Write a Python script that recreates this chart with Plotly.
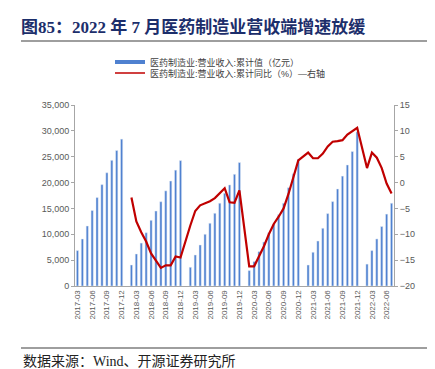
import plotly.graph_objects as go
import pandas as pd

# Categories: monthly 2017-03 .. 2022-07
months = [p.strftime("%Y-%m") for p in pd.period_range("2017-03", "2022-07", freq="M")]

# Cumulative revenue (亿元); January has no data (None)
rev_2017 = [6850, 9090, 11600, 14600, 17100, 19600, 21900, 24300, 26200, 28400]
rev_2018 = [None, 4060, 6190, 8300, 10300, 12700, 14500, 16300, 18400, 20300, 22400, 24250]
rev_2019 = [None, 3620, 6000, 7930, 10000, 12130, 14060, 16000, 17930, 19540, 21600, 23870]
rev_2020 = [None, 2980, 4720, 6650, 8500, 10300, 12000, 13800, 16000, 19000, 21700, 24500]
rev_2021 = [None, 4060, 6520, 8700, 11160, 14000, 16320, 18760, 21250, 23400, 26000, 29800]
rev_2022 = [None, 4230, 6850, 9100, 11500, 13900, 16000]

# Cumulative YoY (%)
yoy_2017 = [None] * 10
yoy_2018 = [None, -2.9, -7.5, -9.6, -11.4, -13.7, -15.0, -16.5, -16.0, -16.0, -14.3, -14.5]
yoy_2019 = [None, -8.3, -5.5, -4.4, -4.0, -3.6, -3.0, -2.1, -1.1, -3.8, -3.9, -1.5]
yoy_2020 = [None, -16.2, -16.2, -14.3, -12.3, -10.0, -8.0, -6.6, -5.0, -2.2, 1.2, 4.3]
yoy_2021 = [None, 5.8, 4.7, 4.7, 5.6, 7.0, 7.9, 8.0, 8.2, 9.3, 9.9, 10.6]
yoy_2022 = [None, 2.8, 5.8, 4.8, 2.8, -0.2, -2.1]

revenue = rev_2017 + rev_2018 + rev_2019 + rev_2020 + rev_2021 + rev_2022
yoy = yoy_2017 + yoy_2018 + yoy_2019 + yoy_2020 + yoy_2021 + yoy_2022

tick_labels = months[::3]

name_bar = "医药制造业:营业收入:累计值（亿元）"
name_line = "医药制造业:营业收入:累计同比（%）—右轴"

BLUE = "#4F81D0"
RED = "#C00000"
AXIS = "#A6A6A6"
TXT = "#595959"

fig = go.Figure()
fig.add_trace(go.Bar(x=months, y=revenue, marker_color=BLUE, showlegend=False, name=name_bar))
fig.add_trace(go.Scatter(x=months, y=yoy, yaxis="y2", mode="lines", connectgaps=True,
                         line=dict(color=RED, width=2.2), showlegend=False, name=name_line))
# legend entries
fig.add_trace(go.Scatter(x=[None], y=[None], mode="lines", line=dict(color=BLUE, width=4),
                         name=name_bar, legend="legend"))
fig.add_trace(go.Scatter(x=[None], y=[None], mode="lines", line=dict(color=RED, width=1.5),
                         name=name_line, legend="legend2"))

L, R, T, B = 67, 49, 97, 91
W, H = 435, 369
pw, ph = W - L - R, H - T - B

def px(x):
    return (x - L) / pw

def py(y):
    return (H - B - y) / ph

leg_common = dict(xanchor="left", yanchor="middle", font=dict(size=9, color="#404040"),
                  bgcolor="rgba(0,0,0,0)", itemwidth=30)

fig.update_layout(
    width=W, height=H, autosize=False,
    margin=dict(l=L, r=R, t=T, b=B),
    paper_bgcolor="white", plot_bgcolor="white",
    bargap=0.55,
    font=dict(family="Liberation Sans, Noto Sans CJK SC, sans-serif", size=9, color=TXT),
    title=dict(text="<b>图85：2022 年 7 月医药制造业营收端增速放缓</b>",
               x=13 / W, xanchor="left", xref="container",
               y=1 - 19 / H, yanchor="middle", yref="container",
               font=dict(family="Liberation Serif, Noto Sans CJK SC, serif", size=17, color="#1C2E6B")),
    xaxis=dict(type="category", range=[-0.5, len(months) - 0.5],
               tickmode="array", tickvals=tick_labels, ticktext=tick_labels,
               tickangle=-90, tickfont=dict(size=8, color=TXT),
               showline=True, linecolor=AXIS, ticks="", showgrid=False),
    yaxis=dict(range=[0, 35000], dtick=5000, tickformat=",", showgrid=False,
               showline=True, linecolor=AXIS, ticks="outside", ticklen=3, tickcolor=AXIS,
               tickfont=dict(size=9, color=TXT), zeroline=False),
    yaxis2=dict(range=[-20, 15], dtick=5, overlaying="y", side="right", showgrid=False,
                showline=True, linecolor=AXIS, ticks="outside", ticklen=3, tickcolor=AXIS,
                tickfont=dict(size=9, color=TXT), zeroline=False),
    legend=dict(x=px(102), y=py(54), **leg_common),
    legend2=dict(x=px(102), y=py(65), **leg_common),
    shapes=[
        dict(type="line", xref="paper", yref="paper", x0=px(13), x1=px(425), y0=py(33), y1=py(33),
             line=dict(color="#9E9E9E", width=2)),
        dict(type="line", xref="paper", yref="paper", x0=px(13), x1=px(425), y0=py(340), y1=py(340),
             line=dict(color="#9E9E9E", width=2)),
    ],
    annotations=[
        dict(text="数据来源：Wind、开源证券研究所", xref="paper", yref="paper",
             x=px(13), y=py(353), xanchor="left", yanchor="middle", showarrow=False,
             font=dict(family="Liberation Serif, Noto Sans CJK SC, serif", size=14, color="#222222")),
    ],
)

fig.write_html("out.html")
